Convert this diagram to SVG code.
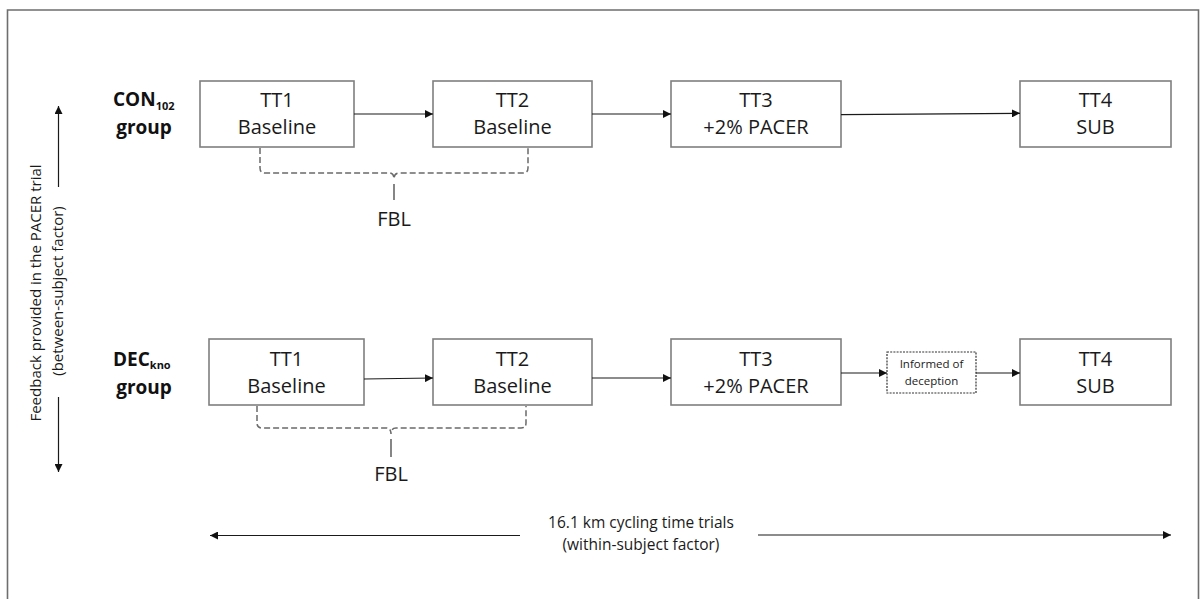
<svg xmlns="http://www.w3.org/2000/svg" width="1203" height="599" viewBox="0 0 1203 599">
<style>
.frame{fill:none;stroke:#6e6e6e;stroke-width:1.6}
.box{fill:#fff;stroke:#7f7f7f;stroke-width:1.6}
.dbox{fill:#fff;stroke:#333;stroke-width:1.2;stroke-dasharray:2,1.2}
.bt{font-family:"Open Sans","Liberation Sans",sans-serif;font-size:20px;fill:#1a1a1a;text-anchor:middle}
.gt{font-family:"Open Sans","Liberation Sans",sans-serif;font-size:19px;font-weight:bold;fill:#111}
.sub{font-size:11px}
.st{font-family:"Open Sans","Liberation Sans",sans-serif;font-size:15.5px;fill:#1a1a1a;text-anchor:middle}
.it{font-family:"Open Sans","Liberation Sans",sans-serif;font-size:11.5px;fill:#1a1a1a;text-anchor:middle}
.conn{fill:none;stroke:#1a1a1a;stroke-width:1.2}
.brace{fill:none;stroke:#6a6a6a;stroke-width:1.5;stroke-dasharray:6,3}
.bstem{fill:none;stroke:#444;stroke-width:1.3}
</style>
<defs>
<marker id="ah" viewBox="0 0 10 10" refX="10" refY="5" markerWidth="8" markerHeight="8" markerUnits="userSpaceOnUse" orient="auto">
<path d="M0,0 L10,5 L0,10 z" fill="#111"/>
</marker>
</defs>
<rect x="0" y="0" width="1203" height="599" fill="#fff"/>
<path class="frame" d="M7.5,600 V10 H1198.5 V600"/>

<g id="label-con">
<text class="gt" x="113" y="106">CON<tspan class="sub" dy="4">102</tspan></text>
<text class="gt" x="144" y="134" text-anchor="middle">group</text>
</g>
<g id="label-dec">
<text class="gt" x="113" y="366">DEC<tspan class="sub" dy="3">kno</tspan></text>
<text class="gt" x="144" y="394" text-anchor="middle">group</text>
</g>

<g id="con-tt1"><rect class="box" x="200" y="81" width="154" height="66"/><text class="bt" x="277" y="107">TT1</text><text class="bt" x="277" y="134">Baseline</text></g>
<g id="con-tt2"><rect class="box" x="433" y="81" width="159" height="66"/><text class="bt" x="512.5" y="107">TT2</text><text class="bt" x="512.5" y="134">Baseline</text></g>
<g id="con-tt3"><rect class="box" x="671" y="81" width="170" height="66"/><text class="bt" x="756" y="107">TT3</text><text class="bt" x="756" y="134">+2% PACER</text></g>
<g id="con-tt4"><rect class="box" x="1020" y="81" width="151" height="66"/><text class="bt" x="1095.5" y="107">TT4</text><text class="bt" x="1095.5" y="134">SUB</text></g>

<g id="dec-tt1"><rect class="box" x="209" y="339" width="155" height="66"/><text class="bt" x="286.5" y="366">TT1</text><text class="bt" x="286.5" y="393">Baseline</text></g>
<g id="dec-tt2"><rect class="box" x="433" y="339" width="159" height="66"/><text class="bt" x="512.5" y="366">TT2</text><text class="bt" x="512.5" y="393">Baseline</text></g>
<g id="dec-tt3"><rect class="box" x="671" y="339" width="170" height="66"/><text class="bt" x="756" y="366">TT3</text><text class="bt" x="756" y="393">+2% PACER</text></g>
<g id="dec-informed"><rect class="dbox" x="887" y="352" width="89" height="41"/><text class="it" x="931.5" y="368">Informed of</text><text class="it" x="931.5" y="385">deception</text></g>
<g id="dec-tt4"><rect class="box" x="1020" y="339" width="151" height="66"/><text class="bt" x="1095.5" y="366">TT4</text><text class="bt" x="1095.5" y="393">SUB</text></g>

<g id="fbl-con">
<path class="brace" d="M260,148 V168 Q260,173 265,173 H389 Q394,173 394,179 Q394,173 399,173 H523 Q528,173 528,168 V148"/>
<path class="bstem" d="M394,184 V200"/>
<text class="bt" x="394" y="226">FBL</text>
</g>
<g id="fbl-dec">
<path class="brace" d="M257,406 V423 Q257,428 262,428 H386 Q391,428 391,434 Q391,428 396,428 H521 Q526,428 526,423 V406"/>
<path class="bstem" d="M391,439 V457"/>
<text class="bt" x="391" y="481">FBL</text>
</g>

<g id="axis-between">
<text class="st" transform="translate(41,293) rotate(-90)" style="font-size:15px">Feedback provided in the PACER trial</text>
<text class="st" transform="translate(63,291) rotate(-90)" style="font-size:15px">(between-subject factor)</text>
</g>
<g id="axis-within">
<text class="st" x="641" y="528">16.1 km cycling time trials</text>
<text class="st" x="641" y="550">(within-subject factor)</text>
</g>

<g id="connectors">
<path class="conn" d="M354,114 H433" marker-end="url(#ah)"/>
<path class="conn" d="M592,114 H671" marker-end="url(#ah)"/>
<path class="conn" d="M841,114.7 L1020,113.3" marker-end="url(#ah)"/>
<path class="conn" d="M364,379 L433,378" marker-end="url(#ah)"/>
<path class="conn" d="M592,378 H671" marker-end="url(#ah)"/>
<path class="conn" d="M841,373 H887" marker-end="url(#ah)"/>
<path class="conn" d="M976,373 H1020" marker-end="url(#ah)"/>
<path class="conn" d="M58.5,187 V106" marker-end="url(#ah)"/>
<path class="conn" d="M58.5,397 V472" marker-end="url(#ah)"/>
<path class="conn" d="M520,535.5 H210" marker-end="url(#ah)"/>
<path class="conn" d="M758,535 H1171" marker-end="url(#ah)"/>
</g>
</svg>
